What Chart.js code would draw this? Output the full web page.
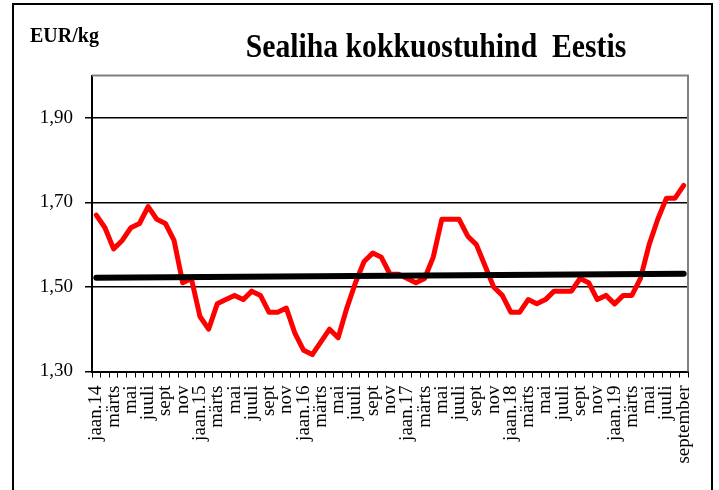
<!DOCTYPE html>
<html>
<head>
<meta charset="utf-8">
<script src="https://cdn.jsdelivr.net/npm/chart.js@4/dist/chart.umd.min.js"></script>
<style>
html,body{margin:0;padding:0;background:#fff;}
canvas{display:block;}
</style>
</head>
<body>
<canvas id="c" width="719" height="490"></canvas>
<script>
const chartTitle = "Sealiha kokkuostuhind  Eestis";
const unitLabel = "EUR/kg";

const categories = [
  "jaan.14","","märts","","mai","","juuli","","sept","","nov","",
  "jaan.15","","märts","","mai","","juuli","","sept","","nov","",
  "jaan.16","","märts","","mai","","juuli","","sept","","nov","",
  "jaan.17","","märts","","mai","","juuli","","sept","","nov","",
  "jaan.18","","märts","","mai","","juuli","","sept","","nov","",
  "jaan.19","","märts","","mai","","juuli","","september"
];

const priceValues = [
  1.67,1.64,1.59,1.61,1.64,1.65,1.69,1.66,1.65,1.61,1.51,1.52,
  1.43,1.40,1.46,1.47,1.48,1.47,1.49,1.48,1.44,1.44,1.45,1.39,
  1.35,1.34,1.37,1.40,1.38,1.45,1.51,1.56,1.58,1.57,1.53,1.53,
  1.52,1.51,1.52,1.57,1.66,1.66,1.66,1.62,1.60,1.55,1.50,1.48,
  1.44,1.44,1.47,1.46,1.47,1.49,1.49,1.49,1.52,1.51,1.47,1.48,
  1.46,1.48,1.48,1.52,1.60,1.66,1.71,1.71,1.74
];

// linear trend line end points
const trendStart = 1.522;
const trendEnd = 1.531;

const yTickValues = [1.30, 1.50, 1.70, 1.90];
const yMin = 1.30;
const yMax = 2.00;

const trendValues = categories.map((_, i) =>
  i === 0 ? trendStart : (i === categories.length - 1 ? trendEnd : null));

const frame = {
  id: 'frame',
  beforeDraw(chart) {
    const ctx = chart.ctx;
    ctx.save();
    ctx.fillStyle = '#fff';
    ctx.fillRect(0, 0, chart.width, chart.height);
    ctx.strokeStyle = '#000';
    ctx.lineWidth = 2;
    ctx.strokeRect(13, 4, 699, 520);
    ctx.restore();
  },
  beforeDatasetsDraw(chart) {
    const ctx = chart.ctx, a = chart.chartArea;
    ctx.save();
    ctx.strokeStyle = '#808080';
    ctx.lineWidth = 2;
    ctx.beginPath();
    ctx.moveTo(a.left, a.top);
    ctx.lineTo(a.right, a.top);
    ctx.lineTo(a.right, a.bottom);
    ctx.stroke();
    ctx.restore();
  },
  afterDraw(chart) {
    const ctx = chart.ctx;
    ctx.save();
    ctx.fillStyle = '#000';
    ctx.textBaseline = 'alphabetic';
    // title: slightly condensed, taller glyphs as in the reference
    ctx.save();
    ctx.translate(436, 57);
    ctx.scale(0.9, 1);
    ctx.font = 'bold 33px "Liberation Serif", "Times New Roman", serif';
    ctx.textAlign = 'center';
    ctx.fillText(chartTitle, 0, 0);
    ctx.restore();
    ctx.font = 'bold 20px "Liberation Serif", "Times New Roman", serif';
    ctx.textAlign = 'left';
    ctx.fillText(unitLabel, 30, 42);
    ctx.restore();
  }
};

new Chart(document.getElementById('c'), {
  type: 'line',
  data: {
    labels: categories,
    datasets: [
      {
        label: 'trend',
        data: trendValues,
        borderColor: '#000',
        borderWidth: 6,
        borderCapStyle: 'round',
        pointRadius: 0,
        spanGaps: true,
        tension: 0
      },
      {
        label: 'Sealiha kokkuostuhind',
        data: priceValues,
        borderColor: '#ff0000',
        borderWidth: 5,
        borderJoinStyle: 'round',
        borderCapStyle: 'round',
        pointRadius: 0,
        tension: 0
      }
    ]
  },
  options: {
    responsive: false,
    animation: false,
    devicePixelRatio: 1,
    layout: { padding: { left: 0, right: 31, top: 75.5, bottom: 0 } },
    plugins: {
      legend: { display: false },
      tooltip: { enabled: false },
      title: { display: false }
    },
    scales: {
      x: {
        type: 'category',
        offset: true,
        grid: {
          offset: true,
          drawOnChartArea: false,
          drawTicks: true,
          tickLength: 6,
          color: '#000',
          lineWidth: 1
        },
        border: { display: true, color: '#000', width: 2 },
        ticks: {
          autoSkip: false,
          minRotation: 90,
          maxRotation: 90,
          padding: 8,
          color: '#000',
          font: { family: '"Liberation Serif", "Times New Roman", serif', size: 19 }
        },
        afterFit(scale) { scale.height = 118.5; }
      },
      y: {
        min: yMin,
        max: yMax,
        afterBuildTicks(scale) {
          scale.ticks = yTickValues.map(v => ({ value: v }));
        },
        grid: {
          color: '#000',
          lineWidth: 1.5,
          drawTicks: true,
          tickLength: 7
        },
        border: { display: true, color: '#000', width: 2 },
        ticks: {
          padding: 12,
          color: '#000',
          font: { family: '"Liberation Serif", "Times New Roman", serif', size: 19 },
          callback: v => Number(v).toFixed(2).replace('.', ',')
        },
        afterFit(scale) { scale.width = 92; }
      }
    }
  },
  plugins: [frame]
});
</script>
</body>
</html>
